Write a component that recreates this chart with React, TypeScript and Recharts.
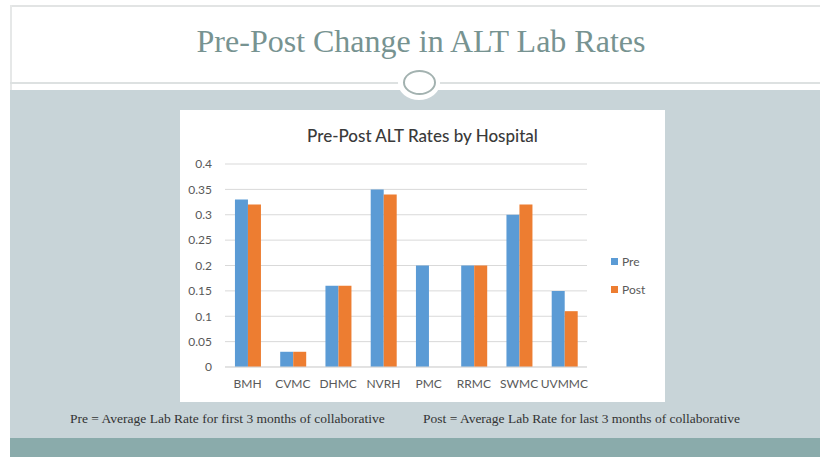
import { Bar, BarChart, CartesianGrid, XAxis, YAxis } from "recharts";

const hospitals = ["BMH", "CVMC", "DHMC", "NVRH", "PMC", "RRMC", "SWMC", "UVMMC"];
const preRates = [0.33, 0.03, 0.16, 0.35, 0.2, 0.2, 0.3, 0.15];
const postRates = [0.32, 0.03, 0.16, 0.34, 0, 0.2, 0.32, 0.11];
const yTicks = [0, 0.05, 0.1, 0.15, 0.2, 0.25, 0.3, 0.35, 0.4];

const series = [
  { key: "pre", name: "Pre", color: "#5b9bd5" },
  { key: "post", name: "Post", color: "#ed7d31" },
];

const rows = hospitals.map((h, i) => ({ name: h, pre: preRates[i], post: postRates[i] }));

const serif = "'Liberation Serif', 'DejaVu Serif', serif";
const sans = "Lato, 'Open Sans', sans-serif";

export default function App() {
  return (
    <div
      style={{
        position: "absolute",
        left: 0,
        top: 0,
        width: 820,
        height: 457,
        background: "#ffffff",
        overflow: "hidden",
      }}
    >
      {/* slide frame */}
      <div style={{ position: "absolute", left: 10, top: 5, right: 0, height: 2, background: "#e2e4e4" }} />
      <div style={{ position: "absolute", left: 10, top: 5, width: 2, height: 85, background: "#e6e8e8" }} />
      <div style={{ position: "absolute", left: 10, top: 82, right: 0, height: 2, background: "#dde1e1" }} />
      <div style={{ position: "absolute", left: 10, top: 90, right: 0, bottom: 0, background: "#c8d4d8" }} />
      <div style={{ position: "absolute", left: 10, top: 438, right: 0, bottom: 0, background: "#8aabab" }} />

      {/* ornament */}
      <div
        style={{
          position: "absolute",
          left: 398,
          top: 66,
          width: 42,
          height: 34,
          borderRadius: "50%",
          background: "#ffffff",
        }}
      />
      <div
        style={{
          position: "absolute",
          left: 403,
          top: 70,
          width: 33,
          height: 25,
          borderRadius: "50%",
          border: "2.5px solid #a3b2b0",
          boxSizing: "border-box",
        }}
      />

      <div
        style={{
          position: "absolute",
          left: 0,
          top: 23,
          width: 842,
          textAlign: "center",
          fontFamily: serif,
          fontSize: 32,
          color: "#779391",
          lineHeight: "36px",
        }}
      >
        Pre-Post Change in ALT Lab Rates
      </div>

      {/* chart card */}
      <div style={{ position: "absolute", left: 180, top: 110, width: 485, height: 292, background: "#ffffff" }}>
        <div
          style={{
            position: "absolute",
            left: 0,
            top: 15,
            width: 485,
            textAlign: "center",
            fontFamily: sans,
            fontSize: 17,
            fontWeight: 500,
            color: "#3a3a3a",
          }}
        >
          Pre-Post ALT Rates by Hospital
        </div>
        <BarChart
          width={485}
          height={292}
          data={rows}
          margin={{ top: 54, right: 78, bottom: 5, left: 0 }}
          barCategoryGap="22%"
          barGap={0}
        >
          <CartesianGrid stroke="#d9d9d9" vertical={false} />
          <XAxis
            dataKey="name"
            stroke="#d9d9d9"
            tickLine={false}
            tickMargin={6}
            height={30}
            tick={{ fill: "#595959", fontSize: 12, fontFamily: sans }}
            interval={0}
          />
          <YAxis
            domain={[0, 0.4]}
            ticks={yTicks}
            width={45}
            axisLine={false}
            tickLine={false}
            tickMargin={7}
            tick={{ fill: "#595959", fontSize: 12, fontFamily: sans }}
          />
          {series.map((s) => (
            <Bar key={s.key} dataKey={s.key} name={s.name} fill={s.color} isAnimationActive={false} />
          ))}
        </BarChart>
        {/* legend */}
        {series.map((s, i) => (
          <div
            key={s.key}
            style={{
              position: "absolute",
              left: 431,
              top: 144 + i * 28,
              display: "flex",
              alignItems: "center",
              fontFamily: sans,
              fontSize: 12,
              color: "#595959",
            }}
          >
            <span style={{ width: 7, height: 7, background: s.color, marginRight: 4, display: "inline-block" }} />
            {s.name}
          </div>
        ))}
      </div>

      {/* footnotes */}
      <div
        style={{
          position: "absolute",
          left: 70,
          top: 411,
          fontFamily: serif,
          fontSize: 13.5,
          color: "#333333",
          whiteSpace: "nowrap",
        }}
      >
        Pre = Average Lab Rate for first 3 months of collaborative
      </div>
      <div
        style={{
          position: "absolute",
          left: 423,
          top: 411,
          fontFamily: serif,
          fontSize: 13.5,
          color: "#333333",
          whiteSpace: "nowrap",
        }}
      >
        Post = Average Lab Rate for last 3 months of collaborative
      </div>
    </div>
  );
}
